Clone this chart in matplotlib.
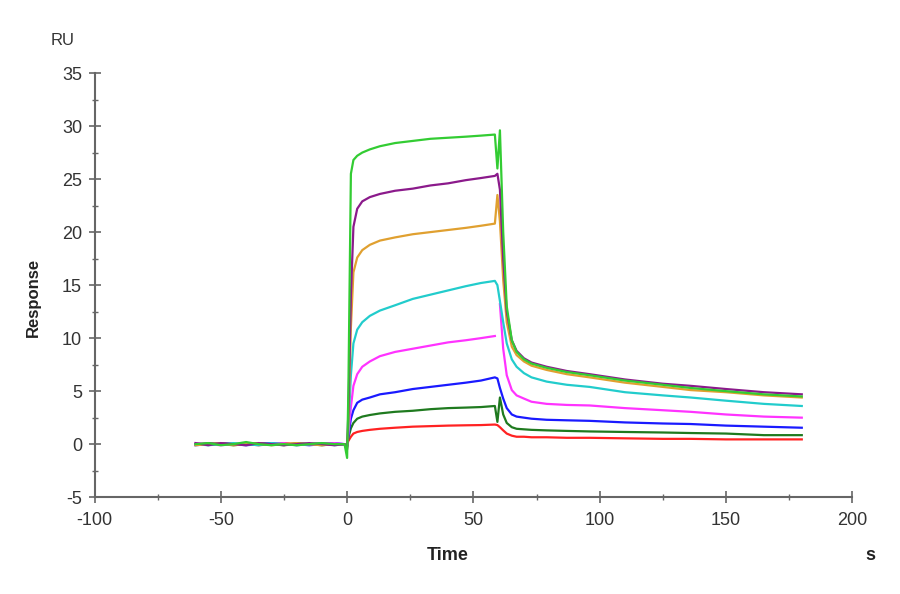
import numpy as np
import matplotlib
matplotlib.use("Agg")
import matplotlib.pyplot as plt
from matplotlib.ticker import MultipleLocator

plt.rcParams['font.family'] = ['Liberation Sans', 'DejaVu Sans']
plt.rcParams['axes.unicode_minus'] = False

# time points (s) shared by all sensorgrams
time = [-60, -55, -50, -45, -40, -35, -30, -25, -20, -15, -10, -5, -1,
        0, 0.5, 1.5, 2.5, 4, 6, 9, 13, 19, 26, 33, 40, 47, 53, 58.5,
        59.5, 60.5, 61.8, 63.2, 65.2, 67.1, 70, 73, 79, 87, 96, 110,
        125, 136, 150, 165, 180]

# response (RU), one list per concentration
resp_green = [0.0, 0.1, -0.1, 0.0, 0.2, 0.0, -0.1, 0.0, -0.1, 0.0, 0.1, 0.0, 0.0,
              -1.3, 5.0, 25.5, 26.8, 27.2, 27.5, 27.8, 28.1, 28.4, 28.6, 28.8, 28.9, 29.0, 29.1, 29.2,
              26.0, 29.6, 20.0, 13.0, 9.8, 8.7, 8.0, 7.6, 7.2, 6.8, 6.5, 6.0,
              5.6, 5.3, 5.0, 4.7, 4.5]
resp_purple = [0.1, -0.1, 0.1, 0.0, -0.1, 0.1, 0.0, -0.1, 0.0, 0.1, 0.0, -0.1, 0.0,
               -0.5, 3.0, 14.0, 20.5, 22.2, 22.9, 23.3, 23.6, 23.9, 24.1, 24.4, 24.6, 24.9, 25.1, 25.3,
               25.5, 24.0, 17.5, 12.5, 9.8, 8.8, 8.1, 7.7, 7.3, 6.9, 6.6, 6.1,
               5.7, 5.5, 5.2, 4.9, 4.7]
resp_orange = [-0.1, 0.0, 0.1, -0.1, 0.0, 0.1, -0.1, 0.0, 0.1, 0.0, -0.1, 0.0, 0.0,
               -0.4, 2.0, 11.0, 16.2, 17.6, 18.3, 18.8, 19.2, 19.5, 19.8, 20.0, 20.2, 20.4, 20.6, 20.8,
               23.5, 21.0, 15.5, 11.5, 9.2, 8.4, 7.8, 7.4, 7.0, 6.6, 6.3, 5.8,
               5.4, 5.1, 4.9, 4.6, 4.4]
resp_cyan = [0.0, -0.1, 0.0, 0.1, 0.0, -0.1, 0.1, 0.0, -0.1, 0.0, 0.1, -0.1, 0.0,
             -0.3, 1.5, 6.5, 9.5, 10.8, 11.5, 12.1, 12.6, 13.1, 13.7, 14.1, 14.5, 14.9, 15.2, 15.4,
             15.0, 13.5, 11.5, 9.5, 8.0, 7.3, 6.7, 6.3, 5.9, 5.6, 5.4, 4.9,
             4.6, 4.4, 4.1, 3.8, 3.6]
resp_magenta = [0.1, 0.0, -0.1, 0.0, 0.1, 0.0, 0.0, 0.1, -0.1, 0.0, 0.0, 0.1, 0.0,
                -0.3, 1.0, 3.5, 5.5, 6.6, 7.3, 7.8, 8.3, 8.7, 9.0, 9.3, 9.6, 9.8, 10.0, 10.2,
                np.nan, 13.2, 9.0, 6.5, 5.1, 4.6, 4.3, 4.0, 3.8, 3.7, 3.65, 3.4,
                3.2, 3.05, 2.8, 2.6, 2.5]
resp_blue = [-0.1, 0.0, 0.1, 0.0, -0.1, 0.0, 0.1, 0.0, 0.0, -0.1, 0.0, 0.1, 0.0,
             -0.2, 0.8, 2.4, 3.2, 3.9, 4.2, 4.4, 4.7, 4.9, 5.2, 5.4, 5.6, 5.8, 6.0, 6.3,
             6.2, 5.3, 4.3, 3.4, 2.8, 2.6, 2.5, 2.4, 2.3, 2.25, 2.2, 2.05,
             1.95, 1.9, 1.75, 1.65, 1.55]
resp_dkgreen = [0.0, 0.1, 0.0, -0.1, 0.0, 0.1, 0.0, -0.1, 0.1, 0.0, -0.1, 0.0, 0.0,
                -0.2, 0.6, 1.5, 2.0, 2.4, 2.6, 2.75, 2.9, 3.05, 3.15, 3.3, 3.4, 3.45, 3.5, 3.6,
                2.1, 4.4, 2.8, 2.0, 1.6, 1.45, 1.4, 1.35, 1.3, 1.25, 1.2, 1.15,
                1.1, 1.05, 1.0, 0.85, 0.85]
resp_red = [0.0, 0.0, 0.1, 0.0, 0.0, -0.1, 0.0, 0.1, 0.0, 0.0, 0.1, 0.0, 0.0,
            -0.1, 0.3, 0.7, 1.0, 1.15, 1.25, 1.35, 1.45, 1.55, 1.65, 1.7, 1.75, 1.78, 1.8, 1.85,
            1.8, 1.6, 1.3, 1.0, 0.8, 0.7, 0.7, 0.65, 0.65, 0.6, 0.6, 0.55,
            0.5, 0.5, 0.45, 0.45, 0.45]

series = [
    (resp_red, '#ff2222'),
    (resp_dkgreen, '#1f7a1f'),
    (resp_blue, '#1a1aff'),
    (resp_magenta, '#ff33ff'),
    (resp_cyan, '#22cccc'),
    (resp_orange, '#e0a030'),
    (resp_purple, '#8b1a8b'),
    (resp_green, '#33cc33'),
]

fig = plt.figure(figsize=(9, 5.94), dpi=100)
ax = fig.add_axes([0.105, 0.163, 0.842, 0.714])

for vals, col in series:
    ax.plot(time, vals, color=col, lw=1.6)

ax.set_xlim(-100, 200)
ax.set_ylim(-5, 35)
ax.xaxis.set_major_locator(MultipleLocator(50))
ax.xaxis.set_minor_locator(MultipleLocator(25))
ax.yaxis.set_major_locator(MultipleLocator(5))
ax.yaxis.set_minor_locator(MultipleLocator(2.5))

for s in ['top', 'right']:
    ax.spines[s].set_visible(False)
for s in ['left', 'bottom']:
    ax.spines[s].set_color('#666666')
    ax.spines[s].set_linewidth(1.5)

ax.tick_params(which='major', direction='inout', length=8, width=1.2,
               color='#666666', labelsize=13, labelcolor='#333333')
ax.tick_params(axis='y', which='major', pad=5)
ax.tick_params(axis='x', which='major', pad=7)
ax.tick_params(which='minor', direction='inout', length=4, width=1.0, color='#666666')

fig.text(0.070, 0.932, 'RU', fontsize=12, color='#333333', ha='center', va='center')
fig.text(0.037, 0.50, 'Response', fontsize=12, fontweight='bold', color='#222222',
         rotation=90, ha='center', va='center')
fig.text(0.497, 0.065, 'Time', fontsize=13, fontweight='bold', color='#222222',
         ha='center', va='center')
fig.text(0.967, 0.065, 's', fontsize=13, fontweight='bold', color='#222222',
         ha='center', va='center')

fig.savefig('out.png', dpi=100)
